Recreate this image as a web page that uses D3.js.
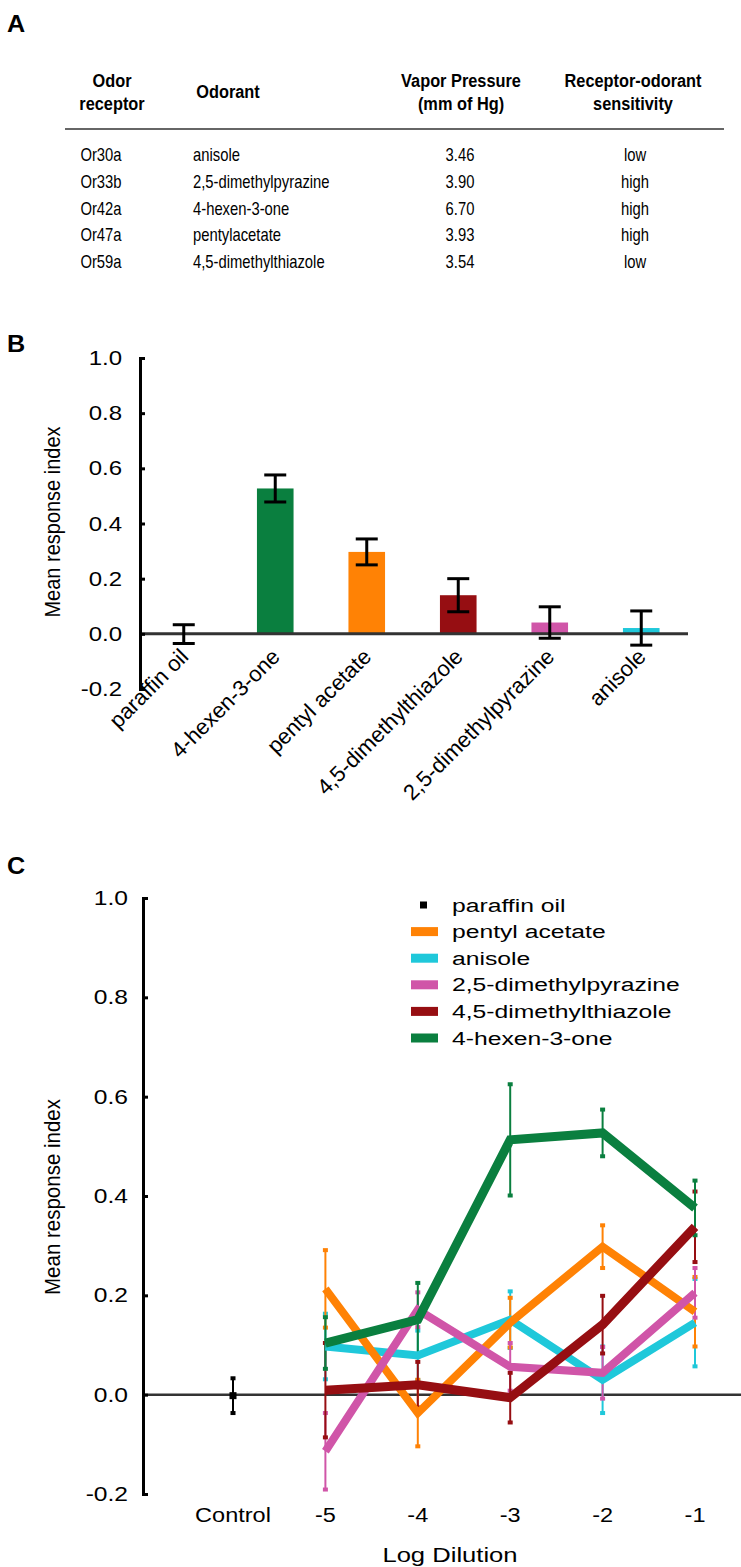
<!DOCTYPE html>
<html><head><meta charset="utf-8">
<script src="https://cdn.jsdelivr.net/npm/d3@7"></script>
<style>
html,body{margin:0;padding:0;background:#fff;}
svg{display:block;font-family:"Liberation Sans",Arial,Helvetica,sans-serif;}
</style></head>
<body>
<svg id="fig" width="741" height="1567"></svg>
<script>
// ---------- Panel A data ----------
const receptors = ["Or30a","Or33b","Or42a","Or47a","Or59a"];
const odorants = ["anisole","2,5-dimethylpyrazine","4-hexen-3-one","pentylacetate","4,5-dimethylthiazole"];
const vaporPressures = ["3.46","3.90","6.70","3.93","3.54"];
const sensitivities = ["low","high","high","high","low"];
const tableHeaders = [["Odor","receptor"],["Odorant"],["Vapor Pressure","(mm of Hg)"],["Receptor-odorant","sensitivity"]];

// ---------- Panel B data ----------
const barCategories = ["paraffin oil","4-hexen-3-one","pentyl acetate","4,5-dimethylthiazole","2,5-dimethylpyrazine","anisole"];
const barValues = [-0.001, 0.527, 0.297, 0.140, 0.041, 0.021];
const barErrors = [0.034, 0.049, 0.047, 0.060, 0.057, 0.062];
const barColors = ["none","#0a7f3f","#ff8205","#960e12","#d055a8","#1fc8da"];
const yTicks = [-0.2, 0.0, 0.2, 0.4, 0.6, 0.8, 1.0];

// ---------- Panel C data ----------
const dilutionLabels = ["Control","-5","-4","-3","-2","-1"];
const dilutions = ["-5","-4","-3","-2","-1"];
const controlValue = -0.002;
const controlError = 0.035;
const seriesNames = ["paraffin oil","pentyl acetate","anisole","2,5-dimethylpyrazine","4,5-dimethylthiazole","4-hexen-3-one"];
const seriesColors = ["#000000","#ff8205","#1fc8da","#d055a8","#960e12","#0a7f3f"];
const pentylAcetate = [0.213, -0.037, 0.145, 0.298, 0.167];
const pentylAcetateErr = [0.078, 0.067, 0.050, 0.043, 0.070];
const anisole = [0.097, 0.079, 0.151, 0.030, 0.145];
const anisoleErr = [0.066, 0.050, 0.057, 0.067, 0.088];
const dimethylpyrazine = [-0.114, 0.171, 0.056, 0.044, 0.205];
const dimethylpyrazineErr = [0.077, 0.035, 0.048, 0.052, 0.050];
const dimethylthiazole = [0.009, 0.020, -0.006, 0.141, 0.338];
const dimethylthiazoleErr = [0.095, 0.046, 0.050, 0.058, 0.071];
const hexenone = [0.104, 0.151, 0.513, 0.527, 0.376];
const hexenoneErr = [0.052, 0.074, 0.112, 0.047, 0.055];

const svg = d3.select("#fig");

// helper: text with horizontal stretch factor sx
function txt(g, x, y, s, o){
  o = o || {};
  const sx = o.sx || 1;
  let tr = `translate(${x},${y}) scale(${sx},1)`;
  if(o.rot) tr += ` rotate(${o.rot})`;
  return g.append("text").attr("transform",tr)
    .attr("text-anchor",o.anchor||"start")
    .attr("font-size",o.size||18)
    .attr("font-weight",o.weight||"normal")
    .attr("fill","#000").text(s);
}

// ---------- Panel labels ----------
[["A",32],["B",352],["C",874]].forEach(([t,y])=>{
  txt(svg,7,y,t,{size:24,weight:"bold",sx:1.05});
});

// ---------- Panel A ----------
const gA = svg.append("g");
const headX = [112, 228, 461, 633];
tableHeaders.forEach((h,i)=>{
  const lines = h.length===1 ? [98] : [87,110];
  h.forEach((t,j)=>txt(gA, headX[i], lines[j], t, {size:19, weight:"bold", anchor:"middle", sx:0.86}));
});
gA.append("line").attr("x1",65).attr("x2",724).attr("y1",129).attr("y2",129).attr("stroke","#333").attr("stroke-width",1.5);
const rowY = d3.scalePoint().domain(d3.range(receptors.length)).range([161,268]);
receptors.forEach((r,i)=>{
  const y = rowY(i);
  txt(gA, 101, y, r, {size:18.5, anchor:"middle", sx:0.8});
  txt(gA, 193, y, odorants[i], {size:18.5, sx:0.8});
  txt(gA, 460, y, vaporPressures[i], {size:18.5, anchor:"middle", sx:0.8});
  txt(gA, 635, y, sensitivities[i], {size:18.5, anchor:"middle", sx:0.8});
});

// ---------- Panel B ----------
const gB = svg.append("g");
const yB = d3.scaleLinear().domain([-0.2,1.0]).range([689,358]);
const xB = d3.scaleBand().domain(barCategories).range([138,687]).paddingInner(0.6).paddingOuter(0.3);
gB.selectAll("rect.bar").data(barCategories).enter().append("rect")
  .attr("x",d=>xB(d)).attr("width",xB.bandwidth())
  .attr("y",(d,i)=>yB(Math.max(0,barValues[i])))
  .attr("height",(d,i)=>Math.abs(yB(barValues[i])-yB(0)))
  .attr("fill",(d,i)=>barColors[i]);
gB.append("line").attr("x1",140).attr("x2",688).attr("y1",yB(0)).attr("y2",yB(0))
  .attr("stroke","#333").attr("stroke-width",3);
barCategories.forEach((c,i)=>{
  const cx = xB(c)+xB.bandwidth()/2;
  const y1 = yB(barValues[i]+barErrors[i]), y2 = yB(barValues[i]-barErrors[i]);
  gB.append("line").attr("x1",cx).attr("x2",cx).attr("y1",y1).attr("y2",y2).attr("stroke","#000").attr("stroke-width",3);
  [y1,y2].forEach(y=>gB.append("line").attr("x1",cx-11).attr("x2",cx+11).attr("y1",y).attr("y2",y).attr("stroke","#000").attr("stroke-width",3));
});
const axB = gB.append("g").attr("transform","translate(140,0)")
  .call(d3.axisRight(yB).tickValues(yTicks).tickFormat("").tickSize(5).tickSizeOuter(5));
axB.select(".domain").attr("stroke","#000").attr("stroke-width",3);
axB.selectAll(".tick line").attr("stroke","#000").attr("stroke-width",3);
yTicks.forEach(t=>txt(gB, 122, yB(t)+7, d3.format(".1f")(t).replace("−","-"), {size:20, anchor:"end", sx:1.2}));
txt(gB, 60, 522, "Mean response index", {size:20, anchor:"middle", rot:-90, sx:1.12});
barCategories.forEach(c=>{
  const cx = xB(c)+xB.bandwidth()/2;
  txt(gB, cx+6, 658, c, {size:22, anchor:"end", rot:-45});
});

// ---------- Panel C ----------
const gC = svg.append("g");
const yC = d3.scaleLinear().domain([-0.2,1.0]).range([1494,898]);
const xC = d3.scalePoint().domain(dilutionLabels).range([233,695]);
gC.append("line").attr("x1",143).attr("x2",741).attr("y1",yC(0)).attr("y2",yC(0)).attr("stroke","#333").attr("stroke-width",2.5);

const series = [
  {name:"anisole", v:anisole, e:anisoleErr, c:seriesColors[2], w:8},
  {name:"pentyl acetate", v:pentylAcetate, e:pentylAcetateErr, c:seriesColors[1], w:8},
  {name:"2,5-dimethylpyrazine", v:dimethylpyrazine, e:dimethylpyrazineErr, c:seriesColors[3], w:8},
  {name:"4,5-dimethylthiazole", v:dimethylthiazole, e:dimethylthiazoleErr, c:seriesColors[4], w:9},
  {name:"4-hexen-3-one", v:hexenone, e:hexenoneErr, c:seriesColors[5], w:9}
];
series.forEach(s=>{
  dilutions.forEach((d,i)=>{
    const x = xC(d), y1 = yC(s.v[i]+s.e[i]), y2 = yC(s.v[i]-s.e[i]);
    gC.append("line").attr("x1",x).attr("x2",x).attr("y1",y1).attr("y2",y2).attr("stroke",s.c).attr("stroke-width",2);
    [y1,y2].forEach(y=>gC.append("rect").attr("x",x-2.5).attr("y",y-2).attr("width",5).attr("height",4).attr("fill",s.c));
  });
});
const line = d3.line().x((d,i)=>xC(dilutions[i])).y(d=>yC(d));
series.forEach(s=>{
  gC.append("path").datum(s.v).attr("d",line).attr("fill","none").attr("stroke",s.c)
    .attr("stroke-width",s.w).attr("stroke-linejoin","miter");
});
{
  const x = xC("Control"), y1 = yC(controlValue+controlError), y2 = yC(controlValue-controlError);
  gC.append("line").attr("x1",x).attr("x2",x).attr("y1",y1).attr("y2",y2).attr("stroke","#000").attr("stroke-width",2);
  [y1,y2].forEach(y=>gC.append("rect").attr("x",x-2.5).attr("y",y-2).attr("width",5).attr("height",4).attr("fill","#000"));
  gC.append("rect").attr("x",x-3.5).attr("y",yC(controlValue)-3.5).attr("width",7).attr("height",7).attr("fill","#000");
}
const axC = gC.append("g").attr("transform","translate(143,0)")
  .call(d3.axisRight(yC).tickValues(yTicks).tickFormat("").tickSize(5).tickSizeOuter(5));
axC.select(".domain").attr("stroke","#000").attr("stroke-width",3);
axC.selectAll(".tick line").attr("stroke","#000").attr("stroke-width",3);
yTicks.forEach(t=>txt(gC, 128, yC(t)+7, d3.format(".1f")(t).replace("−","-"), {size:20.5, anchor:"end", sx:1.2}));
txt(gC, 60, 1197, "Mean response index", {size:20.5, anchor:"middle", rot:-90, sx:1.12});
dilutionLabels.forEach(d=>txt(gC, xC(d), 1522, d, {size:21, anchor:"middle", sx:1.12}));
txt(gC, 450, 1562, "Log Dilution", {size:21, anchor:"middle", sx:1.22});

// legend
const legY = d3.scalePoint().domain(seriesNames).range([905,1038]);
seriesNames.forEach((n,i)=>{
  const y = legY(n);
  if(i===0){
    gC.append("rect").attr("x",420).attr("y",y-3.5).attr("width",7).attr("height",7).attr("fill","#000");
  } else {
    gC.append("rect").attr("x",411).attr("y",y-4.5).attr("width",27).attr("height",9).attr("fill",seriesColors[i]);
  }
  txt(gC, 452, y+6.5, n, {size:19, sx:1.3});
});
</script>
</body></html>
